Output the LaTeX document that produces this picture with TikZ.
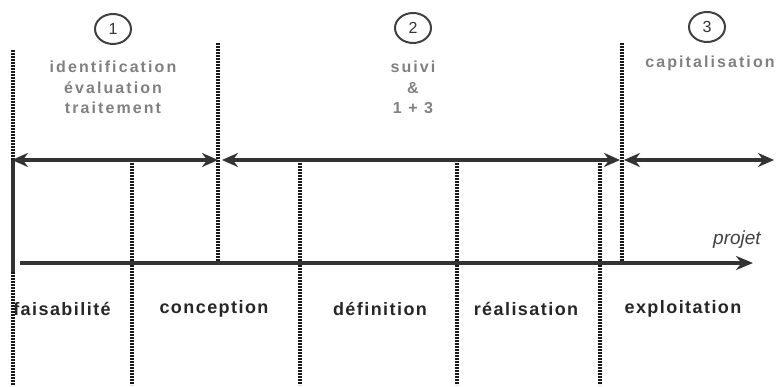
\documentclass[tikz,border=0pt]{standalone}
\usepackage{fontspec}
\setmainfont{Liberation Sans}
\newfontfamily\labfont{Liberation Sans}[LetterSpace=8]
\newfontfamily\topfont{Liberation Sans}[LetterSpace=13]
\usetikzlibrary{arrows.meta,shapes.geometric}
\tikzset{
  dotline/.style={line width=3.2pt, draw=black!90, dash pattern=on 2pt off 1pt},
  solidline/.style={line width=3.4pt, draw=black!80},
  dbl/.style={solidline, {Stealth[length=16pt,width=14pt]}-{Stealth[length=16pt,width=14pt]}},
  axis/.style={solidline, -{Stealth[length=17pt,width=14pt]}},
  phase/.style={font=\labfont\bfseries\fontsize{18}{20}\selectfont, text=black!85, inner sep=0pt},
  toptxt/.style={font=\topfont\bfseries\fontsize{16}{20.5}\selectfont, text=black!50, align=center, inner sep=0pt},
  numc/.style={ellipse, draw=black!75, line width=2pt, minimum width=36pt, minimum height=30pt, inner sep=0pt, font=\fontsize{16}{16}\selectfont, text=black!80},
}
\begin{document}
\begin{tikzpicture}[x=1pt,y=-1pt]
\useasboundingbox (0,0) rectangle (777,387);
% coordinates
\coordinate (L0) at (13,50);
\coordinate (L1) at (13,160);
\coordinate (L2) at (13,272);
\coordinate (L3) at (13,385);
\coordinate (A1t) at (218,43);
\coordinate (A1b) at (218,263);
\coordinate (A2t) at (622,43);
\coordinate (A2b) at (622,263);
\coordinate (B1t) at (132,160);
\coordinate (B1b) at (132,385);
\coordinate (B2t) at (300,160);
\coordinate (B2b) at (300,385);
\coordinate (B3t) at (457,160);
\coordinate (B3b) at (457,385);
\coordinate (B4t) at (600,160);
\coordinate (B4b) at (600,385);
\coordinate (P0) at (20,263);
\coordinate (P1) at (753,263);
\coordinate (T1a) at (12,160);
\coordinate (T1b) at (218,160);
\coordinate (T2a) at (222,160);
\coordinate (T2b) at (620,160);
\coordinate (T3a) at (624,160);
\coordinate (T3b) at (774,160);
% vertical lines
\draw[dotline] (L0) -- (L1);
\draw[solidline] (L1) -- (L2);
\draw[dotline] (L2) -- (L3);
\draw[dotline] (A1t) -- (A1b);
\draw[dotline] (A2t) -- (A2b);
\draw[dotline] (B1t) -- (B1b);
\draw[dotline] (B2t) -- (B2b);
\draw[dotline] (B3t) -- (B3b);
\draw[dotline] (B4t) -- (B4b);
% arrows
\draw[dbl] (T1a) -- (T1b);
\draw[dbl] (T2a) -- (T2b);
\draw[dbl] (T3a) -- (T3b);
\draw[axis] (P0) -- (P1);
% circles
\node[numc] (n1) at (113,29) {1};
\node[numc] (n2) at (413,28) {2};
\node[numc] (n3) at (707,27) {3};
% top texts
\node[toptxt, anchor=north] (t1) at (113,61) {identification\\évaluation\\traitement};
\node[toptxt, anchor=north] (t2) at (413,61) {suivi\\\&\\1 + 3};
\node[toptxt, anchor=north] (t3) at (710,56) {capitalisation};
% projet
\node[font=\itshape\fontsize{19}{20}\selectfont, text=black!75, inner sep=0pt] (pj) at (737,240) {projet};
% phases
\node[phase] (f1) at (62,309) {faisabilité};
\node[phase] (f2) at (214,309) {conception};
\node[phase] (f3) at (380,309) {définition};
\node[phase] (f4) at (526,309) {réalisation};
\node[phase] (f5) at (683,309) {exploitation};
\end{tikzpicture}
\end{document}
